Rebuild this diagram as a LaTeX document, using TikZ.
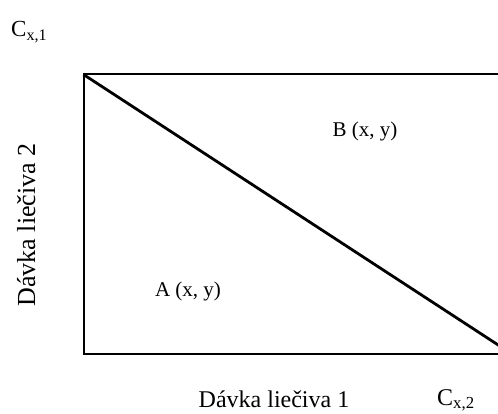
\documentclass[tikz,border=0pt]{standalone}
\usepackage{fontspec}
\setmainfont{Liberation Serif}
\usetikzlibrary{positioning}

\begin{document}
\begin{tikzpicture}[x=1pt,y=-1pt,
  frame/.style={draw=black,line width=2pt},
  diag/.style={draw=black,line width=2.8pt},
  lbl/.style={inner sep=0pt,font=\fontsize{21}{25}\selectfont},
  axis/.style={inner sep=0pt,font=\fontsize{24}{28}\selectfont}]
\clip (0,0) rectangle (498,414);
% plot area
\coordinate (tl) at (83.5,74.5);
\coordinate (br) at (512,354);
\draw[frame] (tl) rectangle (br);
\draw[diag] (tl) -- (br);
% regions
\node[lbl] (regB) at (365,131) {B (x, y)};
\node[lbl] (regA) at (188,291) {A (x, y)};
% axes
\node[axis,anchor=base] (xlab) at (274,407) {Dávka liečiva 1};
\node[axis,anchor=base,rotate=90,font=\fontsize{26}{30}\selectfont] (ylab) at (35,225) {Dávka liečiva 2};
\node[axis,anchor=base west,font=\fontsize{23}{27}\selectfont] (cx1) at (11,37) {C\textsubscript{x,1}};
\node[axis,anchor=base west] (cx2) at (437,405) {C\textsubscript{x,2}};
\end{tikzpicture}
\end{document}
